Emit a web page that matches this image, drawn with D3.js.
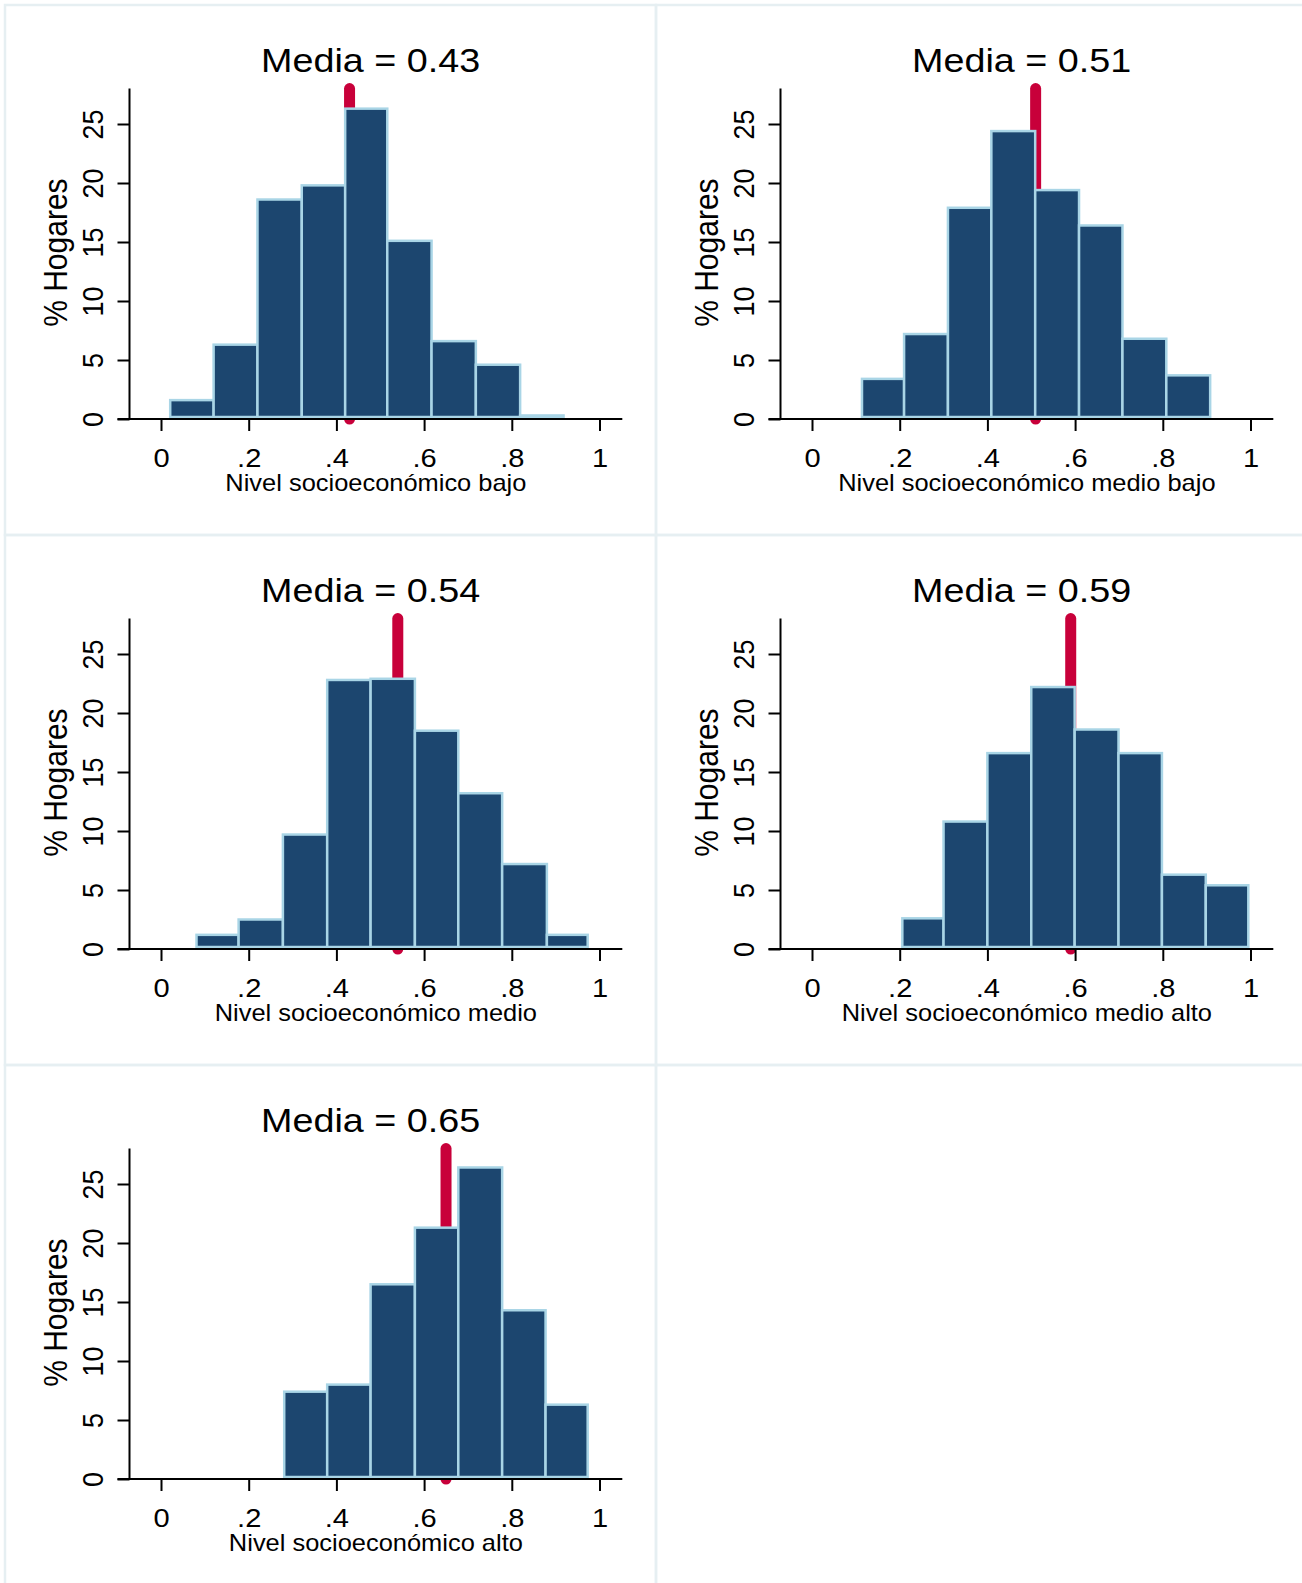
<!DOCTYPE html>
<html>
<head>
<meta charset="utf-8">
<script src="https://cdn.jsdelivr.net/npm/d3@7"></script>
<style>
  body { margin: 0; background: #fff; }
  text { font-family: "Liberation Sans", Arial, sans-serif; fill: #000; }
</style>
</head>
<body>
<script>
// data
const categories = [
  'Nivel socioeconómico bajo',
  'Nivel socioeconómico medio bajo',
  'Nivel socioeconómico medio',
  'Nivel socioeconómico medio alto',
  'Nivel socioeconómico alto'
];
const means = [0.43, 0.51, 0.54, 0.59, 0.65];

const edgesBajo = [0.021, 0.120, 0.220, 0.321, 0.420, 0.516, 0.617, 0.718, 0.819, 0.918];
const edgesMedioBajo = [0.114, 0.210, 0.310, 0.409, 0.509, 0.609, 0.708, 0.808, 0.908];
const edgesMedio = [0.081, 0.177, 0.278, 0.379, 0.478, 0.579, 0.678, 0.778, 0.880, 0.973];
const edgesMedioAlto = [0.206, 0.300, 0.400, 0.500, 0.599, 0.699, 0.798, 0.898, 0.995];
const edgesAlto = [0.281, 0.379, 0.478, 0.579, 0.678, 0.778, 0.877, 0.973];

const pctBajo = [1.6, 6.3, 18.6, 19.8, 26.3, 15.1, 6.6, 4.6, 0.3];
const pctMedioBajo = [3.4, 7.2, 17.9, 24.4, 19.4, 16.4, 6.8, 3.7];
const pctMedio = [1.2, 2.5, 9.7, 22.8, 22.9, 18.5, 13.2, 7.2, 1.2];
const pctMedioAlto = [2.6, 10.8, 16.6, 22.2, 18.6, 16.6, 6.3, 5.4];
const pctAlto = [7.4, 8.0, 16.5, 21.3, 26.4, 14.3, 6.3];

const xTicks = [0, 0.2, 0.4, 0.6, 0.8, 1];
const xTickLabels = ['0', '.2', '.4', '.6', '.8', '1'];
const yTicks = [0, 5, 10, 15, 20, 25];
const yTitle = '% Hogares';

const edges = [edgesBajo, edgesMedioBajo, edgesMedio, edgesMedioAlto, edgesAlto];
const pcts = [pctBajo, pctMedioBajo, pctMedio, pctMedioAlto, pctAlto];

// layout
const W = 1302, H = 1583;
const cols = [5, 656];
const rows = [5, 535, 1065];
const navy = '#1c466f';
const edgeBlue = '#a9d5e6';
const red = '#c8003a';
const frame = '#e6eff2';
const tickLen = 12;
const axisX = 124.5;

const svg = d3.select('body')
  .append('svg')
  .attr('width', W)
  .attr('height', H);

// panel frames (including the empty bottom-right cell)
rows.forEach((ry, r) => {
  cols.forEach((cx, c) => {
    svg.append('rect')
      .attr('x', cx)
      .attr('y', ry)
      .attr('width', c === 0 ? 651 : 660)
      .attr('height', r === 2 ? 540 : 530)
      .attr('fill', 'none')
      .attr('stroke', frame)
      .attr('stroke-width', 2.5);
  });
});

const x = d3.scaleLinear().domain([0, 1]).range([156, 594.5]);
const y = d3.scaleLinear().domain([0, 28]).range([414, 83.6]);

categories.forEach((cat, i) => {
  const g = svg.append('g')
    .attr('transform', `translate(${cols[i % 2]},${rows[Math.floor(i / 2)]})`);

  const bins = pcts[i].map((v, j) => ({ x0: edges[i][j], x1: edges[i][j + 1], v }));

  // mean line, behind the bars
  g.append('line')
    .attr('x1', x(means[i]))
    .attr('x2', x(means[i]))
    .attr('y1', y(0))
    .attr('y2', y(28))
    .attr('stroke', red)
    .attr('stroke-width', 11)
    .attr('stroke-linecap', 'round');

  // bars
  g.append('g')
    .selectAll('rect')
    .data(bins)
    .enter().append('rect')
      .attr('x', d => x(d.x0))
      .attr('width', d => x(d.x1) - x(d.x0))
      .attr('y', d => y(d.v))
      .attr('height', d => Math.max(0, y(0) - y(d.v) - 2))
      .attr('fill', navy)
      .attr('stroke', edgeBlue)
      .attr('stroke-width', 2.5);

  // x axis
  const gx = g.append('g')
    .attr('transform', `translate(0,${y(0)})`)
    .call(d3.axisBottom(x)
      .tickValues(xTicks)
      .tickSize(tickLen)
      .tickFormat((d, k) => xTickLabels[k]));
  gx.select('.domain').remove();
  gx.selectAll('.tick line').attr('stroke', '#000').attr('stroke-width', 2);
  gx.selectAll('.tick text')
    .attr('y', null)
    .attr('dy', null)
    .attr('font-size', 26)
    .attr('fill', '#000')
    .attr('transform', 'translate(0,47.6) scale(1.12,1)');

  // y axis
  const gy = g.append('g')
    .attr('transform', `translate(${axisX},0)`)
    .call(d3.axisLeft(y)
      .tickValues(yTicks)
      .tickSize(tickLen)
      .tickFormat(d3.format('d')));
  gy.select('.domain').remove();
  gy.selectAll('.tick line').attr('stroke', '#000').attr('stroke-width', 2);
  gy.selectAll('.tick text')
    .attr('x', null)
    .attr('dy', null)
    .attr('text-anchor', 'middle')
    .attr('font-size', 27)
    .attr('fill', '#000')
    .attr('transform', 'translate(-26.6,0) scale(1.12,1) rotate(-90)');

  // axis lines
  g.append('line')
    .attr('x1', axisX - tickLen)
    .attr('x2', x(1.052))
    .attr('y1', y(0))
    .attr('y2', y(0))
    .attr('stroke', '#000')
    .attr('stroke-width', 2);
  g.append('line')
    .attr('x1', axisX)
    .attr('x2', axisX)
    .attr('y1', y(0))
    .attr('y2', y(28))
    .attr('stroke', '#000')
    .attr('stroke-width', 2);

  // titles
  g.append('text')
    .attr('text-anchor', 'middle')
    .attr('font-size', 34)
    .attr('transform', `translate(${x(0.478)},${y(0) - 346.7}) scale(1.11,1)`)
    .text(`Media = ${means[i].toFixed(2)}`);

  g.append('text')
    .attr('text-anchor', 'middle')
    .attr('font-size', 24)
    .attr('transform', `translate(${x(0.49)},${y(0) + 71.7}) scale(1.06,1)`)
    .text(cat);

  g.append('text')
    .attr('text-anchor', 'middle')
    .attr('font-size', 30)
    .attr('transform', `translate(${axisX - 62.3},${y(14.1)}) scale(1.12,1) rotate(-90)`)
    .text(yTitle);
});
</script>
</body>
</html>
